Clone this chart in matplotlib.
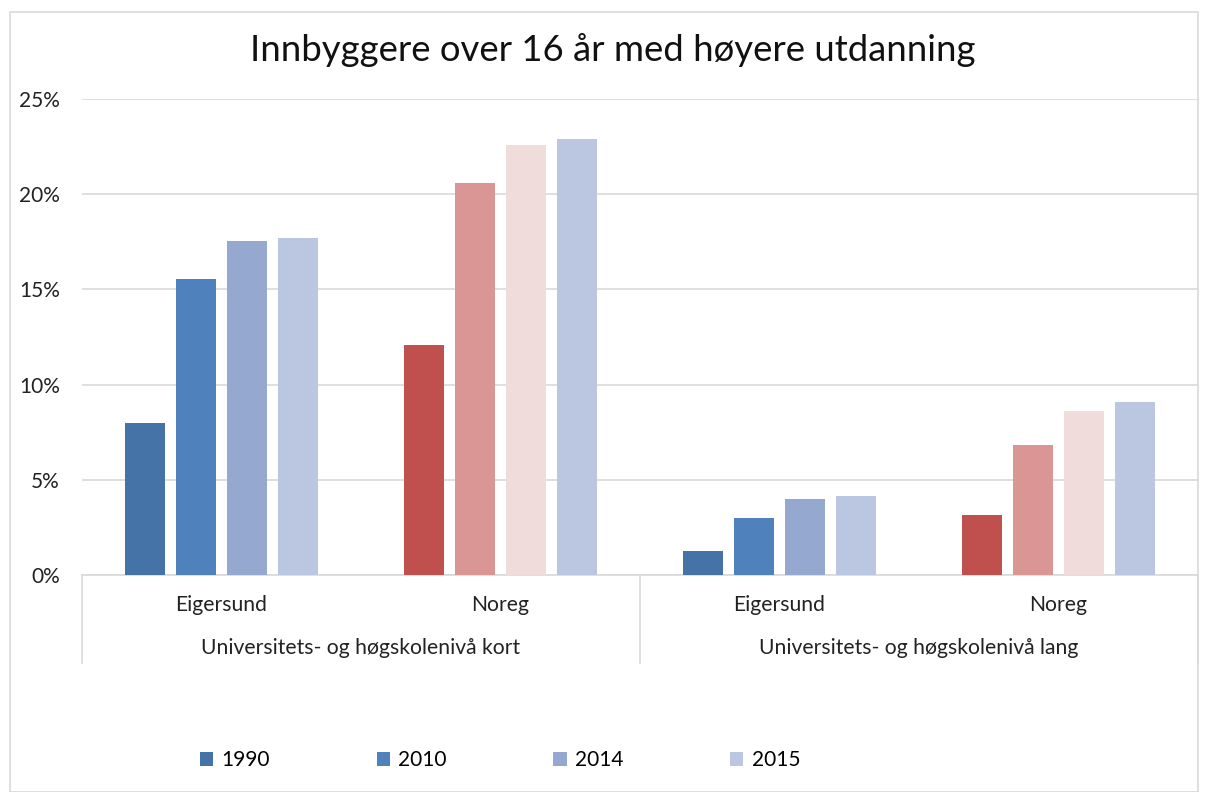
import matplotlib.pyplot as plt
from matplotlib.patches import Patch, Rectangle
from matplotlib.lines import Line2D
import numpy as np

# data (percent)
groups = ["Universitets- og høgskolenivå kort", "Universitets- og høgskolenivå lang"]
places = ["Eigersund", "Noreg", "Eigersund", "Noreg"]
years = ["1990", "2010", "2014", "2015"]

vals_1990 = [8.0, 12.1, 1.25, 3.15]
vals_2010 = [15.55, 20.6, 3.0, 6.85]
vals_2014 = [17.55, 22.6, 4.0, 8.6]
vals_2015 = [17.7, 22.9, 4.15, 9.1]

blue_cols = ["#4573A7", "#4F81BD", "#95A9D0", "#BBC7E0"]
red_cols = ["#C0504D", "#D99694", "#F0DCDB", "#BBC7E0"]

plt.rcParams['font.family'] = ['Lato', 'DejaVu Sans']

fig = plt.figure(figsize=(12.05, 7.92), dpi=100)
ax = fig.add_axes([82 / 1205, 1 - 575 / 792, 1116 / 1205, (575 - 99) / 792])

series = [vals_1990, vals_2010, vals_2014, vals_2015]
x = np.arange(len(places))
width = 0.143
step = 0.183
for j, vals in enumerate(series):
    offs = (j - 1.5) * step
    for i, v in enumerate(vals):
        col = blue_cols[j] if places[i] == "Eigersund" else red_cols[j]
        ax.bar(x[i] + offs, v, width, color=col, zorder=3)

ax.set_xlim(-0.5, 3.5)
ax.set_ylim(0, 25)
ax.set_yticks([0, 5, 10, 15, 20, 25])
ax.set_yticklabels([f"{t}%" for t in [0, 5, 10, 15, 20, 25]], fontsize=15, color="#222222")
ax.yaxis.grid(True, color="#D9D9D9", linewidth=1.2, zorder=0)
ax.set_xticks([])
for s in ["top", "right", "left"]:
    ax.spines[s].set_visible(False)
ax.spines["bottom"].set_color("#D9D9D9")
ax.spines["bottom"].set_linewidth(1.2)
ax.tick_params(axis="y", length=0, pad=16)

# category labels below the axis
for i, p in enumerate(places):
    ax.text(x[i], -1.6, p, ha="center", va="center", fontsize=15.2, color="#222222")
for g, name in enumerate(groups):
    ax.text(0.5 + 2 * g, -3.85, name, ha="center", va="center", fontsize=15.2, color="#222222")
for xs in [-0.5, 1.5, 3.5]:
    ax.add_line(Line2D([xs, xs], [0, -4.6], color="#D9D9D9", linewidth=1.2, clip_on=False))

fig.text(613 / 1205, 1 - 50 / 792, "Innbyggere over 16 år med høyere utdanning",
         ha="center", va="center", fontsize=26.3, color="#111111")

handles = [Patch(facecolor=c, edgecolor="none") for c in blue_cols]
fig.legend(handles, years, loc="center", bbox_to_anchor=(500 / 1205, 1 - 760 / 792),
           ncol=4, frameon=False, fontsize=15, handlelength=0.65, handleheight=0.65,
           handletextpad=0.4, columnspacing=5.1)

fig.patches.append(Rectangle((10 / 1205, 0), 1188 / 1205, 1 - 12 / 792, transform=fig.transFigure,
                             fill=False, edgecolor="#D9D9D9", linewidth=1.2))

fig.savefig("out.png", dpi=100)
